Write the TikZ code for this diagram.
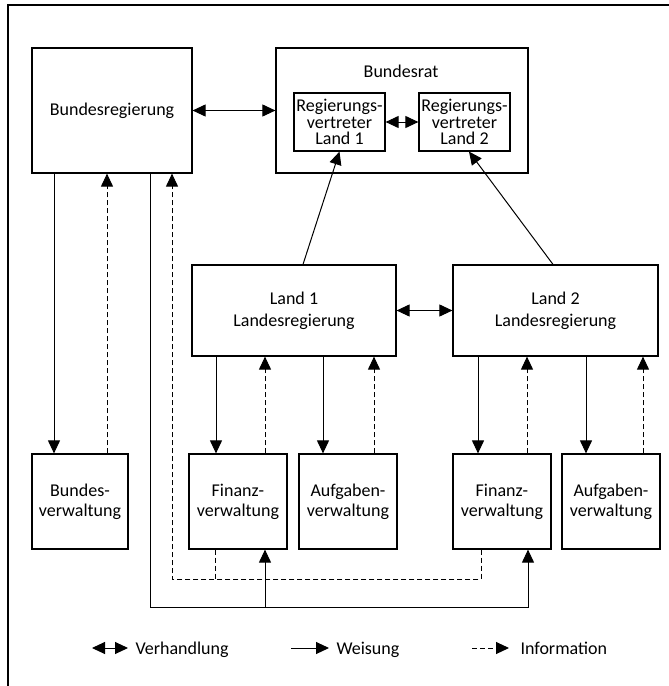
\documentclass[tikz,border=0pt]{standalone}
\usepackage{fontspec}
\setmainfont{Carlito}
\usetikzlibrary{arrows.meta}
\begin{document}
\begin{tikzpicture}[x=0.5pt,y=-0.5pt,line width=0.5pt,
  font=\fontsize{9}{10}\selectfont,
  box/.style={draw,line width=0.6pt,inner sep=0pt,align=center},
  rvbox/.style={box,minimum width=45.5pt,minimum height=29pt,font=\fontsize{9}{8.3}\selectfont},
  lbox/.style={box,minimum width=102pt,minimum height=45.5pt,font=\fontsize{9}{11}\selectfont},
  vbox/.style={box,minimum width=49pt,minimum height=47.5pt},
  legtext/.style={anchor=base west,inner sep=0pt},
  weisung/.style={-{Triangle[length=6.5pt,width=6pt]}},
  info/.style={weisung,dash pattern=on 2.5pt off 1.5pt},
  verh/.style={{Triangle[length=6.5pt,width=6pt]}-{Triangle[length=6.5pt,width=6pt]}}]
\useasboundingbox (0,0) rectangle (669,686);
\coordinate (fbl) at (8,686);
\coordinate (ftl) at (8,5);
\coordinate (ftr) at (669,5);
\draw[line width=0.6pt] (fbl) -- (ftl) -- (ftr);

\node[box,minimum width=80pt,minimum height=62.5pt] (bureg) at (112,110.5) {Bundesregierung};
\node[box,minimum width=126pt,minimum height=62.5pt] (brat) at (402,110.5) {};
\node (bratname) at (401,71) {Bundesrat};
\node[rvbox] (rv1) at (339.5,122) {Regierungs-\\vertreter\\Land 1};
\node[rvbox] (rv2) at (464.5,122) {Regierungs-\\vertreter\\Land 2};
\node[lbox] (land1) at (294,310.5) {Land 1\\Landesregierung};
\node[lbox,minimum width=102.5pt] (land2) at (555.5,310.5) {Land 2\\Landesregierung};
\node[vbox,minimum width=48pt] (bverw) at (80,501.5) {Bundes-\\verwaltung};
\node[vbox] (fin1) at (238,501.5) {Finanz-\\verwaltung};
\node[vbox] (auf1) at (348,501.5) {Aufgaben-\\verwaltung};
\node[vbox] (fin2) at (502,501.5) {Finanz-\\verwaltung};
\node[vbox] (auf2) at (611,501.5) {Aufgaben-\\verwaltung};

\draw[verh] (bureg.east) -- (brat.west);
\draw[verh] (rv1.east) -- (rv2.west);
\draw[verh] (land1.east) -- (land2.west);
\draw[weisung] ([xshift=4.5pt]land1.north) -- (rv1.south);
\draw[weisung] ([xshift=-1.25pt]land2.north) -- ([xshift=2.25pt]rv2.south);

\draw[weisung] ([xshift=-29pt]bureg.south) -- ([xshift=-29pt]bureg.south |- bverw.north);
\draw[info] ([xshift=-2.5pt]bureg.south |- bverw.north) -- ([xshift=-2.5pt]bureg.south);

\draw[weisung] ([xshift=-39pt]land1.south) -- ([xshift=-39pt]land1.south |- fin1.north);
\draw[info] ([xshift=-14.5pt]land1.south |- fin1.north) -- ([xshift=-14.5pt]land1.south);
\draw[weisung] ([xshift=14.5pt]land1.south) -- ([xshift=14.5pt]land1.south |- auf1.north);
\draw[info] ([xshift=40pt]land1.south |- auf1.north) -- ([xshift=40pt]land1.south);

\draw[weisung] ([xshift=-38.75pt]land2.south) -- ([xshift=-38.75pt]land2.south |- fin2.north);
\draw[info] ([xshift=-14.25pt]land2.south |- fin2.north) -- ([xshift=-14.25pt]land2.south);
\draw[weisung] ([xshift=15.25pt]land2.south) -- ([xshift=15.25pt]land2.south |- auf2.north);
\draw[info] ([xshift=43.75pt]land2.south |- auf2.north) -- ([xshift=43.75pt]land2.south);

\coordinate (wline) at (150,607);
\coordinate (iline) at (172,579);
\draw[weisung] ([xshift=19pt]bureg.south) -- (wline) -| ([xshift=13pt]fin2.south);
\draw[weisung] ([xshift=13.5pt]fin1.south |- wline) -- ([xshift=13.5pt]fin1.south);
\draw[info] ([xshift=-10.5pt]fin2.south) |- (iline) -- ([xshift=30pt]bureg.south);
\draw[dash pattern=on 2.5pt off 1.5pt] ([xshift=-11.5pt]fin1.south) -- ([xshift=-11.5pt]fin1.south |- iline);

\coordinate (lverh) at (92,648);
\coordinate (lweis) at (291,648);
\coordinate (linfo) at (472,648);
\node[legtext] (tverh) at (135,654) {Verhandlung};
\node[legtext] (tweis) at (336,654) {Weisung};
\node[legtext] (tinfo) at (520,654) {Information};
\draw[verh] (lverh) -- ([xshift=-3.5pt]tverh.west |- lverh);
\draw[weisung] (lweis) -- ([xshift=-3.5pt]tweis.west |- lweis);
\draw[info] (linfo) -- ([xshift=-5.5pt]tinfo.west |- linfo);
\end{tikzpicture}
\end{document}
